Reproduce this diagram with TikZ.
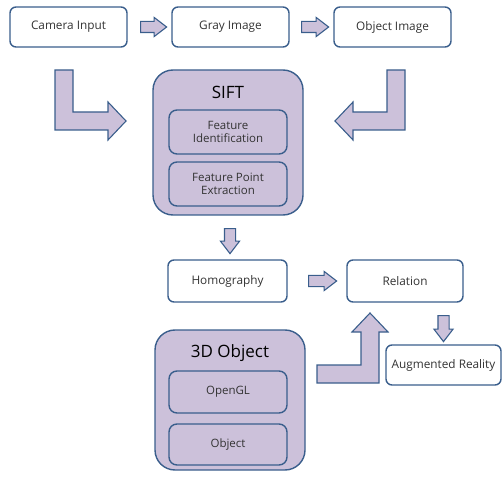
\documentclass[tikz,border=0pt]{standalone}
\usepackage{fontspec}
\setmainfont{Open Sans}
\usetikzlibrary{shapes, shapes.arrows}
\definecolor{frame}{HTML}{3A5E8C}
\definecolor{lav}{HTML}{CCC1DA}
\definecolor{ink}{HTML}{333333}

\begin{document}
\begin{tikzpicture}[x=1pt, y=-1pt,
  step box/.style={rectangle, rounded corners=6pt, draw=frame, line width=1.4pt, fill=white,
    minimum width=117pt, minimum height=40pt, inner sep=0pt, align=center, text=ink,
    font=\fontsize{11.8}{13}\selectfont},
  group box/.style={rectangle, rounded corners=20pt, draw=frame, line width=1.4pt, fill=lav,
    minimum width=150pt, inner sep=0pt},
  sub box/.style={rectangle, rounded corners=8pt, draw=frame, line width=1.4pt, fill=lav,
    minimum width=118pt, minimum height=42pt, inner sep=0pt, align=center, text=ink,
    font=\fontsize{11.5}{13.5}\selectfont},
  title/.style={text=black, font=\fontsize{17}{19}\selectfont},
  block/.style={single arrow, draw=frame, fill=lav, line width=1.1pt, inner sep=5pt,
    minimum width=19pt, single arrow head extend=4pt, single arrow tip angle=75},
  bent/.style={draw=frame, fill=lav, line width=1.1pt, line join=miter}]
\useasboundingbox (0,0) rectangle (503,478);

\node[step box] (1) at (68.5,27) {Camera Input};
\node[step box] (2) at (230.5,27) {Gray Image};
\node[step box] (3) at (392.5,27) {Object Image};

\node[group box, minimum height=145pt] (4) at (228,142.5) {};
\node[title] (5) at (228,92) {SIFT};
\node[sub box, minimum height=44pt] (6) at (228,132) {Feature\\Identification};
\node[sub box, minimum height=44pt] (7) at (228,184) {Feature Point\\Extraction};

\node[step box, minimum width=119pt, minimum height=42pt] (8) at (227.5,281) {Homography};
\node[step box, minimum width=116pt, minimum height=42pt] (9) at (405,281) {Relation};
\node[step box, minimum width=115pt] (10) at (443.5,365) {Augmented Reality};

\node[group box, minimum height=140pt] (11) at (230,400) {};
\node[title] (12) at (230,353) {3D Object};
\node[sub box] (13) at (228,392) {OpenGL};
\node[sub box, minimum height=41pt] (14) at (228,444.5) {Object};

\node[block, minimum height=26pt] (a1) at (150,27) {};
\node[block, minimum height=27pt] (a2) at (311.5,27) {};
\node[block, minimum height=25pt, shape border rotate=270] (a3) at (230,237.5) {};
\node[block, minimum height=28pt] (a4) at (319,281) {};
\node[block, minimum height=26pt, shape border rotate=270] (a5) at (443.5,325) {};

\draw[bent] (55,70) -- (73,70) -- (73,112) -- (108,112) -- (108,102) -- (126,121)
  -- (108,140) -- (108,130) -- (55,130) -- cycle;
\draw[bent] (387,70) -- (405,70) -- (405,130) -- (353,130) -- (353,140) -- (335,121)
  -- (353,102) -- (353,112) -- (387,112) -- cycle;
\draw[bent] (317,365) -- (361,365) -- (361,332) -- (352,332) -- (370,313) -- (388,332)
  -- (379,332) -- (379,383) -- (317,383) -- cycle;
\end{tikzpicture}
\end{document}
